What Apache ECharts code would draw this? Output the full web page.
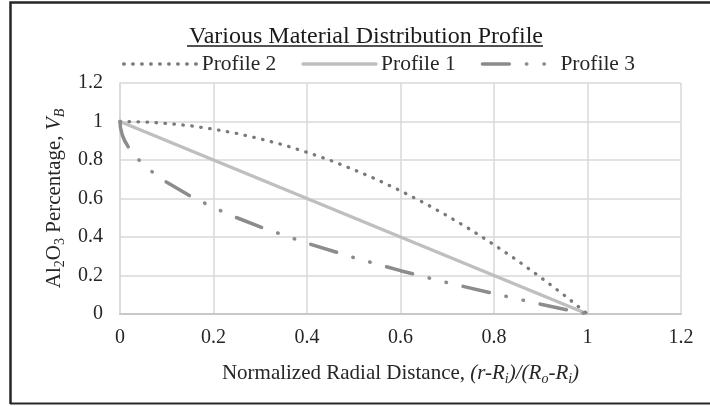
<!DOCTYPE html>
<html>
<head>
<meta charset="utf-8">
<script src="https://cdn.jsdelivr.net/npm/echarts@6/dist/echarts.min.js"></script>
<style>
  html, body { margin: 0; padding: 0; background: #fff; }
  #chart { width: 710px; height: 406px; }
</style>
</head>
<body>
<div id="chart"></div>
<script>
// Normalized radial distance samples and Al2O3 fraction per profile
const profile1X = [0, 1];
const profile1Y = [1, 0];

const profile2X = [0, 0.05, 0.1, 0.15, 0.2, 0.25, 0.3, 0.35, 0.4, 0.45, 0.5,
                   0.55, 0.6, 0.65, 0.7, 0.75, 0.8, 0.85, 0.9, 0.95, 1];
const profile2Y = [1, 0.998, 0.99, 0.978, 0.96, 0.938, 0.91, 0.878, 0.84, 0.798, 0.75,
                   0.698, 0.64, 0.578, 0.51, 0.438, 0.36, 0.278, 0.19, 0.098, 0];

const profile3X = [0, 0.001, 0.005, 0.01, 0.02, 0.03, 0.05, 0.075, 0.1, 0.15, 0.2,
                   0.25, 0.3, 0.4, 0.5, 0.6, 0.7, 0.8, 0.9, 0.95, 1];
const profile3Y = [1, 0.968, 0.929, 0.9, 0.859, 0.827, 0.776, 0.726, 0.684, 0.613, 0.553,
                   0.5, 0.452, 0.368, 0.293, 0.225, 0.163, 0.106, 0.051, 0.025, 0];

const legendOrder = ['Profile 2', 'Profile 1', 'Profile 3'];
const axisTicks = { min: 0, max: 1.2, interval: 0.2 };

const pair = (xs, ys) => xs.map((x, i) => [x, ys[i]]);
const FONT = '"Liberation Serif", "Times New Roman", serif';
const TEXT = '#262626';

const chart = echarts.init(document.getElementById('chart'), null, { renderer: 'canvas' });

chart.setOption({
  backgroundColor: '#ffffff',
  animation: false,
  title: {
    text: 'Various Material Distribution Profile',
    left: 361, top: 20, textAlign: 'center',
    textStyle: { fontFamily: FONT, fontSize: 24, fontWeight: 'normal', color: '#1a1a1a' }
  },
  graphic: [
    // chart frame
    { type: 'polyline', silent: true,
      shape: { points: [[10.5, 404], [10.5, 2.5], [712, 2.5]] },
      style: { stroke: '#262626', lineWidth: 2.5, fill: null } },
    { type: 'line', silent: true,
      shape: { x1: 10, y1: 403.5, x2: 712, y2: 403.5 },
      style: { stroke: '#262626', lineWidth: 2 } },
    // title underline
    { type: 'line', silent: true,
      shape: { x1: 187, y1: 46, x2: 543, y2: 46 },
      style: { stroke: '#1a1a1a', lineWidth: 1.6 } }
  ],
  legend: {
    data: legendOrder,
    left: 117, top: 48,
    itemWidth: 73, itemHeight: 14, itemGap: 25,
    itemStyle: { opacity: 0 },
    lineStyle: { width: 3.4, cap: 'round' },
    textStyle: { fontFamily: FONT, fontSize: 21.5, color: TEXT, padding: [0, 0, 0, 0] }
  },
  grid: { left: 120, right: 29, top: 83, bottom: 92, containLabel: false },
  xAxis: {
    type: 'value', min: axisTicks.min, max: axisTicks.max, interval: axisTicks.interval,
    name: '{n|Normalized Radial Distance, }{i|(r-R}{si|i}{i|)/(R}{si|o}{i|-R}{si|i}{i|)}',
    nameLocation: 'middle', nameGap: 46,
    nameTextStyle: {
      rich: {
        n: { fontFamily: FONT, fontSize: 21, color: TEXT, lineHeight: 26 },
        i: { fontFamily: FONT, fontSize: 21, color: TEXT, fontStyle: 'italic', lineHeight: 26 },
        si: { fontFamily: FONT, fontSize: 14, color: TEXT, fontStyle: 'italic', lineHeight: 14, verticalAlign: 'bottom' }
      }
    },
    axisLine: { show: true, onZero: false, lineStyle: { color: '#c8c8c8', width: 2 } },
    axisTick: { show: false },
    splitLine: { show: true, lineStyle: { color: '#d9d9d9', width: 1.5 } },
    axisLabel: {
      margin: 14, fontFamily: FONT, fontSize: 20, color: TEXT,
      formatter: v => String(Math.round(v * 10) / 10)
    }
  },
  yAxis: {
    type: 'value', min: axisTicks.min, max: axisTicks.max, interval: axisTicks.interval,
    name: '{n|Al}{s|2}{n|O}{s|3}{n| Percentage, }{i|V}{si|B}',
    nameLocation: 'middle', nameGap: 43, nameRotate: 90,
    nameTextStyle: {
      rich: {
        n: { fontFamily: FONT, fontSize: 21, color: TEXT, lineHeight: 26 },
        s: { fontFamily: FONT, fontSize: 14, color: TEXT, lineHeight: 14, verticalAlign: 'bottom' },
        i: { fontFamily: FONT, fontSize: 21, color: TEXT, fontStyle: 'italic', lineHeight: 26 },
        si: { fontFamily: FONT, fontSize: 14, color: TEXT, fontStyle: 'italic', lineHeight: 14, verticalAlign: 'bottom' }
      }
    },
    axisLine: { show: true, lineStyle: { color: '#d9d9d9', width: 1.5 } },
    axisTick: { show: false },
    splitLine: { show: true, lineStyle: { color: '#d9d9d9', width: 1.5 } },
    axisLabel: {
      margin: 17, fontFamily: FONT, fontSize: 20, color: TEXT,
      formatter: v => String(Math.round(v * 10) / 10)
    }
  },
  series: [
    {
      name: 'Profile 2', type: 'line', data: pair(profile2X, profile2Y),
      showSymbol: false, symbol: 'none', smooth: false, z: 3,
      lineStyle: { color: '#7a7a7a', width: 3.3, type: [0.5, 8.5], cap: 'round' },
      itemStyle: { color: '#7a7a7a' }
    },
    {
      name: 'Profile 1', type: 'line', data: pair(profile1X, profile1Y),
      showSymbol: false, symbol: 'none', z: 2,
      lineStyle: { color: '#bfbfbf', width: 3.5, type: 'solid', cap: 'butt' },
      itemStyle: { color: '#bfbfbf' }
    },
    {
      name: 'Profile 3', type: 'line', data: pair(profile3X, profile3Y),
      showSymbol: false, symbol: 'none', smooth: false, z: 4,
      lineStyle: { color: '#8c8c8c', width: 3.5, type: [27, 17, 0.5, 17, 0.5, 17], cap: 'round' },
      itemStyle: { color: '#8c8c8c' }
    }
  ]
});
</script>
</body>
</html>
